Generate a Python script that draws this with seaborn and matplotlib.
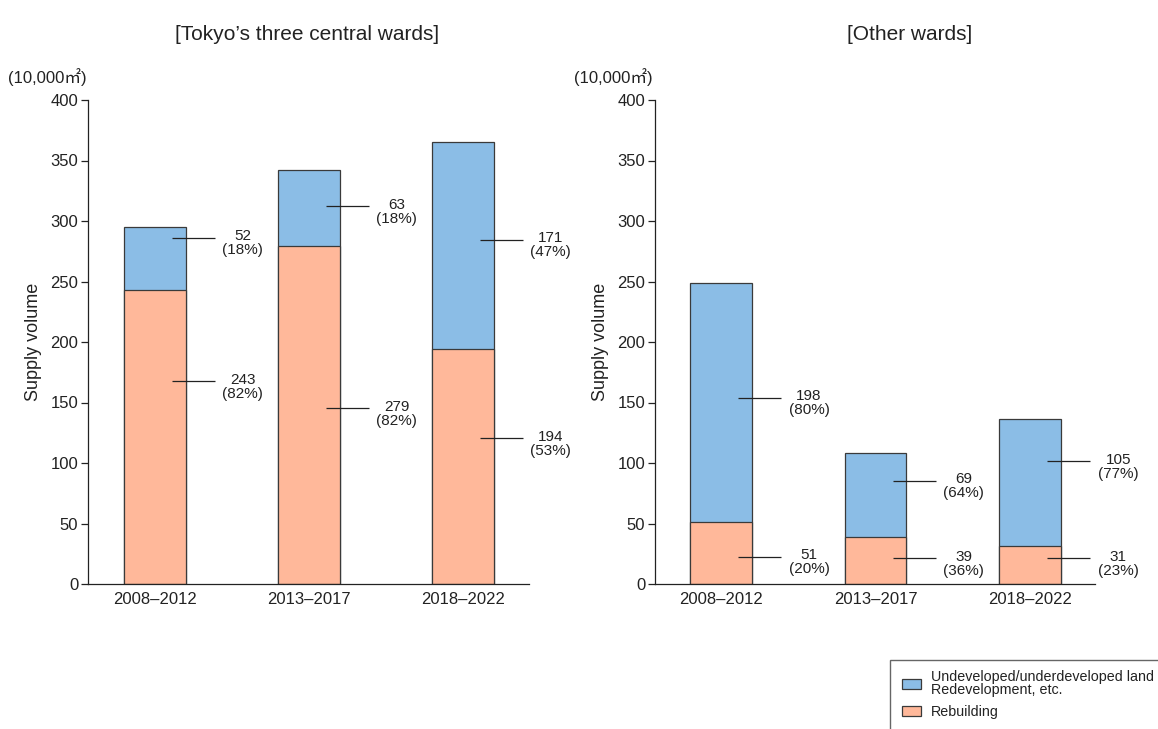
import matplotlib
matplotlib.use("Agg")
import matplotlib.pyplot as plt
from matplotlib.patches import Patch, Rectangle
import seaborn as sns
import numpy as np

# ---- data (10,000 m2) ----
periods = ["2008–2012", "2013–2017", "2018–2022"]
central_rebuild = [243, 279, 194]
central_redev = [52, 63, 171]
other_rebuild = [51, 39, 31]
other_redev = [198, 69, 105]
yticks = [0, 50, 100, 150, 200, 250, 300, 350, 400]

# ---- style ----
BLUE = "#8bbde6"
ORANGE = "#ffb89a"
EDGE = "#3a3a3a"
TXT = "#222222"

sns.set_theme(style="ticks")
plt.rcParams["font.family"] = ["Liberation Sans", "Noto Sans CJK JP", "DejaVu Sans"]
plt.rcParams["text.color"] = TXT
plt.rcParams["axes.labelcolor"] = TXT
plt.rcParams["xtick.color"] = TXT
plt.rcParams["ytick.color"] = TXT

W, H = 1158, 729
fig = plt.figure(figsize=(W / 100, H / 100), dpi=100)


def px_axes(x0, y0, x1, y1):
    return fig.add_axes([x0 / W, 1 - y1 / H, (x1 - x0) / W, (y1 - y0) / H])


def panel(ax, rebuild, redev, frac_top, frac_bot, xlim):
    totals = [a + b for a, b in zip(rebuild, redev)]
    sns.barplot(x=periods, y=totals, order=periods, color=BLUE, saturation=1,
                width=0.4, edgecolor=EDGE, linewidth=0.9, errorbar=None, ax=ax)
    sns.barplot(x=periods, y=rebuild, order=periods, color=ORANGE, saturation=1,
                width=0.4, edgecolor=EDGE, linewidth=0.9, errorbar=None, ax=ax)
    ax.set_xlim(*xlim)
    ax.set_ylim(0, 400)
    ax.set_yticks(yticks)
    ax.tick_params(axis="y", length=5, width=0.9, pad=2, labelsize=12)
    ax.tick_params(axis="x", length=0, pad=6, labelsize=12)
    ax.set_xlabel("")
    ax.set_ylabel("Supply volume", fontsize=13, labelpad=6)
    for s in ("top", "right"):
        ax.spines[s].set_visible(False)
    for s in ("left", "bottom"):
        ax.spines[s].set_color(TXT)
        ax.spines[s].set_linewidth(0.9)

    for i, (rb, rd) in enumerate(zip(rebuild, redev)):
        tot = rb + rd
        segs = [(rb + rd * frac_top[i], rd), (rb * frac_bot[i], rb)]
        for y, v in segs:
            ax.plot([i + 0.11, i + 0.39], [y, y], color=TXT, lw=0.9,
                    solid_capstyle="butt", clip_on=False)
            pct = round(100 * v / tot)
            ax.annotate(f"{v}\n({pct}%)", xy=(i + 0.57, y), xytext=(0, -4),
                        textcoords="offset points", ha="center", va="center",
                        fontsize=11, linespacing=1.0, color=TXT,
                        annotation_clip=False)


ax1 = px_axes(88, 100, 529, 584)
panel(ax1, central_rebuild, central_redev,
      [0.83, 0.53, 0.53], [0.69, 0.52, 0.62], (-0.435, 2.43))

ax2 = px_axes(655, 100, 1095, 584)
panel(ax2, other_rebuild, other_redev,
      [0.52, 0.67, 0.67], [0.44, 0.55, 0.69], (-0.427, 2.42))

# titles and unit labels
fig.text(307 / W, 1 - 35 / H, "[Tokyo’s three central wards]", ha="center",
         va="center", fontsize=15)
fig.text(910 / W, 1 - 35 / H, "[Other wards]", ha="center", va="center",
         fontsize=15)
for x in (8, 574):
    fig.text(x / W, 1 - 77 / H, "(10,000㎡)", ha="left", va="center", fontsize=12)

# legend box
fig.add_artist(Rectangle((890 / W, 1 - 745 / H), 290 / W, 85 / H,
                         transform=fig.transFigure, fill=False,
                         edgecolor="#666666", lw=1.0, clip_on=False))
handles = [Patch(facecolor=BLUE, edgecolor=EDGE, lw=0.9),
           Patch(facecolor=ORANGE, edgecolor=EDGE, lw=0.9)]
labels = ["Undeveloped/underdeveloped land\nRedevelopment, etc.", "Rebuilding"]
fig.legend(handles, labels, loc="upper left",
           bbox_to_anchor=(902 / W, 1 - 670 / H), frameon=False,
           fontsize=10.3, handlelength=1.35, handleheight=0.75,
           handletextpad=0.65, labelspacing=0.55, borderpad=0, borderaxespad=0)
for t in fig.legends[0].get_texts():
    t.set_linespacing(0.9)

fig.savefig("out.png", dpi=100)
